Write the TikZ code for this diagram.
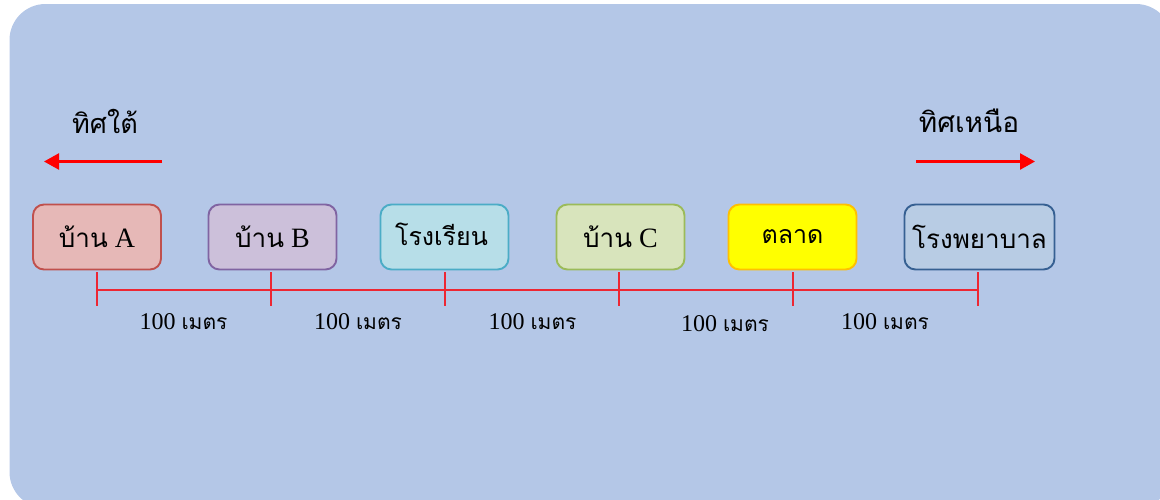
\documentclass[tikz,border=0pt]{standalone}
\usepackage{fontspec}
\setmainfont{Liberation Serif}
\newfontfamily\thaifont[Script=Thai]{Loma}
\usetikzlibrary{arrows.meta}
\definecolor{bgblue}{HTML}{B4C7E7}
\definecolor{rulered}{rgb}{0.93,0.15,0.2}
\definecolor{pureyellow}{rgb}{1,1,0}
\newcommand{\tht}[2][22]{{\fontsize{#1}{#1}\thaifont #2}}
\newcommand{\dist}{{\fontsize{24}{24}\selectfont 100\hspace{6pt}}\tht[21]{เมตร}}
\newcommand{\baan}[1]{\tht[26]{บ้าน}\hspace{7pt}{\fontsize{28}{28}\selectfont #1}}
\tikzset{
 place/.style={draw=#1,line width=1.9pt,rounded corners=11pt,minimum height=65pt,inner sep=0pt,text=black},
 scaleline/.style={draw=rulered,line width=2.2pt},
 dirarrow/.style={draw=red,line width=2.4pt,-{Triangle[length=15pt,width=16pt]}},
 dirlabel/.style={inner sep=0pt,text=black},
 distlabel/.style={inner sep=0pt,text=black}
}
\begin{document}
\begin{tikzpicture}[x=1pt,y=-1pt]
\useasboundingbox (0,0) rectangle (1160,499);
\clip (0,0) rectangle (1160,499);
\fill[bgblue,rounded corners=36pt] (9.5,4) rectangle (1172,508);
\node[dirlabel] (south) at (105,121) {\tht[27]{ทิศใต้}};
\node[dirlabel] (north) at (969,121) {\tht[28]{ทิศเหนือ}};
\coordinate (sa) at (162,161.5); \coordinate (sb) at (44,161.5);
\coordinate (na) at (916,161.5); \coordinate (nb) at (1035,161.5);
\draw[dirarrow] (sa) -- (sb);
\draw[dirarrow] (na) -- (nb);
\definecolor{cA}{HTML}{C0504D}\definecolor{cB}{HTML}{8064A2}\definecolor{cS}{HTML}{4BACC6}
\definecolor{cC}{HTML}{9BBB59}\definecolor{cM}{HTML}{FFC000}\definecolor{cH}{HTML}{366092}
\node[place=cA,fill={rgb,255:red,230;green,184;blue,183},minimum width=128pt] (a) at (97,237) {\baan{A}};
\node[place=cB,fill={rgb,255:red,204;green,192;blue,218},minimum width=128pt] (b) at (272.5,237) {\baan{B}};
\node[place=cS,fill={rgb,255:red,183;green,222;blue,232},minimum width=128pt] (s) at (444.5,237) {\hspace{-6pt}\raisebox{5pt}{\tht[25]{โรงเรียน}}};
\node[place=cC,fill={rgb,255:red,216;green,228;blue,188},minimum width=128pt] (c) at (620.5,237) {\baan{C}};
\node[place=cM,fill=pureyellow,minimum width=128pt] (m) at (792.5,237) {\tht[25]{ตลาด}};
\node[place=cH,fill={rgb,255:red,184;green,204;blue,228},minimum width=150pt] (h) at (979.5,237) {\tht[26]{โรงพยาบาล}};
\coordinate (u1) at (97,272); \coordinate (d1) at (97,306); \coordinate (t1) at (97,290);
\coordinate (u2) at (271,272); \coordinate (d2) at (271,306);
\coordinate (u3) at (445,272); \coordinate (d3) at (445,306);
\coordinate (u4) at (619,272); \coordinate (d4) at (619,306);
\coordinate (u5) at (793,272); \coordinate (d5) at (793,306);
\coordinate (u6) at (978,272); \coordinate (d6) at (978,306); \coordinate (t6) at (978,290);
\draw[scaleline] (t1) -- (t6);
\draw[scaleline] (u1) -- (d1);
\draw[scaleline] (u2) -- (d2);
\draw[scaleline] (u3) -- (d3);
\draw[scaleline] (u4) -- (d4);
\draw[scaleline] (u5) -- (d5);
\draw[scaleline] (u6) -- (d6);
\node[distlabel] (d12) at (183.5,322) {\dist};
\node[distlabel] (d23) at (358,322) {\dist};
\node[distlabel] (d34) at (532.5,322) {\dist};
\node[distlabel] (d45) at (725,324) {\dist};
\node[distlabel] (d56) at (885,322) {\dist};
\end{tikzpicture}
\end{document}
